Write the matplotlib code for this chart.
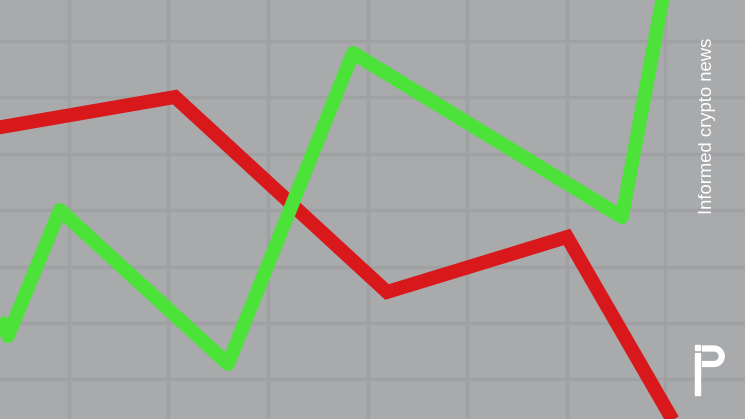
import numpy as np
import matplotlib
matplotlib.use("Agg")
import matplotlib.pyplot as plt
from matplotlib.path import Path
from matplotlib.patches import PathPatch, Rectangle

# chart values (picture units, y grows downwards)
grid_x = [69, 168, 268, 368, 467, 567, 665]
grid_y = [41, 97, 154, 210, 267, 323, 379]

red_x = [-10, 175, 387, 567, 690]
red_y = [129, 97, 292, 237, 450]

green_x = [-8, 8, 60, 228, 353, 622, 668]
green_y = [305, 336, 210, 364, 53, 217, -30]

BG = "#a9aaac"
GRID = "#a0a1a3"
RED = "#d8181b"
GREEN = "#4de23a"

fig = plt.figure(figsize=(7.45, 4.19), dpi=100)
fig.patch.set_facecolor(BG)
ax = fig.add_axes([0, 0, 1, 1])
ax.set_facecolor(BG)
ax.set_xlim(0, 745)
ax.set_ylim(419, 0)

for gx in grid_x:
    ax.axvline(gx, color=GRID, lw=2.4, zorder=1)
for gy in grid_y:
    ax.axhline(gy, color=GRID, lw=2.4, zorder=1)

ax.plot(red_x, red_y, color=RED, lw=10, solid_joinstyle="miter", solid_capstyle="butt", zorder=3)
ax.plot(green_x, green_y, color=GREEN, lw=10, solid_joinstyle="round", solid_capstyle="butt", zorder=4)

for s in ax.spines.values():
    s.set_visible(False)
ax.set_xticks([])
ax.set_yticks([])

# side caption
ax.text(708, 126, "Informed crypto news", rotation=90, color="white",
        fontsize=13.3, family="Liberation Sans", ha="center", va="center", zorder=5)

# logo
ax.add_patch(Rectangle((695, 345), 5, 5, color="white", zorder=6))
ax.add_patch(Rectangle((695, 353), 5, 42, color="white", zorder=6))
t = np.linspace(-np.pi / 2, np.pi / 2, 30)
bx = [702, 714] + list(714 + 7.75 * np.cos(t)) + [714, 702]
by = [348.5, 348.5] + list(356.25 + 7.75 * np.sin(t)) + [364, 364]
ax.add_patch(PathPatch(Path(np.column_stack([bx, by])), fill=False,
                       edgecolor="white", lw=4.5, capstyle="butt", zorder=6))

fig.savefig("out.png", dpi=100, facecolor=BG)
